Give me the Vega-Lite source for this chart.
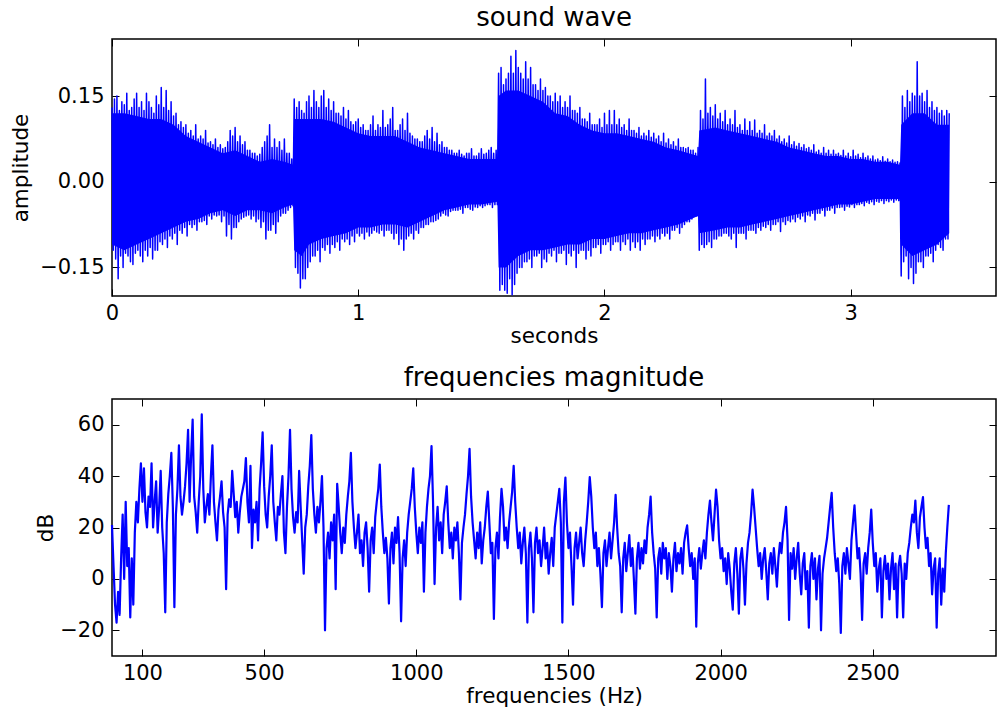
{
"$schema": "https://vega.github.io/schema/vega-lite/v6.json",
"autosize": {"type": "none"},
"padding": {"left": 112, "top": 39, "right": 885, "bottom": 669},
"background": "white",
"spacing": 103,
"bounds": "flush",
"config": {
  "font": "DejaVu Sans",
  "view": {"stroke": "black", "strokeWidth": 1.5},
  "axis": {"domain": false, "grid": false, "tickColor": "black", "tickSize": -7, "tickWidth": 1, "labelFontSize": 21, "labelColor": "black", "labelFlush": false, "labelOverlap": false, "labelBound": false, "titleFontSize": 21.5, "titleFontWeight": "normal", "titleColor": "black", "labelPadding": 13, "titlePadding": 2},
  "axisY": {"labelPadding": 15},
  "title": {"fontSize": 26, "fontWeight": "normal", "color": "black", "font": "DejaVu Sans", "offset": 8, "anchor": "middle", "frame": "group"}
},
"datasets": {
"core": [
{"t":0.0,"lo":-0.11,"hi":0.12},{"t":0.05,"lo":-0.12,"hi":0.12},{"t":0.1,"lo":-0.11,"hi":0.115},{"t":0.15,"lo":-0.1,"hi":0.11},{"t":0.2,"lo":-0.09,"hi":0.11},{"t":0.25,"lo":-0.08,"hi":0.1},{"t":0.3,"lo":-0.07,"hi":0.08},{"t":0.35,"lo":-0.065,"hi":0.07},{"t":0.4,"lo":-0.055,"hi":0.06},{"t":0.45,"lo":-0.05,"hi":0.05},{"t":0.5,"lo":-0.06,"hi":0.055},{"t":0.55,"lo":-0.05,"hi":0.045},{"t":0.6,"lo":-0.05,"hi":0.035},{"t":0.65,"lo":-0.055,"hi":0.04},{"t":0.7,"lo":-0.045,"hi":0.035},{"t":0.735,"lo":-0.04,"hi":0.03},
{"t":0.74,"lo":-0.12,"hi":0.11},{"t":0.77,"lo":-0.13,"hi":0.11},{"t":0.8,"lo":-0.11,"hi":0.11},{"t":0.85,"lo":-0.1,"hi":0.11},{"t":0.9,"lo":-0.095,"hi":0.105},{"t":0.95,"lo":-0.09,"hi":0.095},{"t":1.0,"lo":-0.08,"hi":0.085},{"t":1.05,"lo":-0.08,"hi":0.08},{"t":1.1,"lo":-0.075,"hi":0.08},{"t":1.15,"lo":-0.075,"hi":0.08},{"t":1.2,"lo":-0.08,"hi":0.07},{"t":1.25,"lo":-0.07,"hi":0.06},{"t":1.3,"lo":-0.06,"hi":0.055},{"t":1.35,"lo":-0.05,"hi":0.05},{"t":1.4,"lo":-0.045,"hi":0.045},{"t":1.45,"lo":-0.04,"hi":0.04},{"t":1.5,"lo":-0.04,"hi":0.04},{"t":1.565,"lo":-0.035,"hi":0.04},
{"t":1.57,"lo":-0.15,"hi":0.15},{"t":1.6,"lo":-0.15,"hi":0.16},{"t":1.65,"lo":-0.13,"hi":0.16},{"t":1.7,"lo":-0.12,"hi":0.15},{"t":1.75,"lo":-0.12,"hi":0.14},{"t":1.8,"lo":-0.115,"hi":0.12},{"t":1.85,"lo":-0.11,"hi":0.115},{"t":1.9,"lo":-0.11,"hi":0.1},{"t":1.95,"lo":-0.1,"hi":0.09},{"t":2.0,"lo":-0.1,"hi":0.085},{"t":2.05,"lo":-0.095,"hi":0.085},{"t":2.1,"lo":-0.09,"hi":0.08},{"t":2.15,"lo":-0.09,"hi":0.075},{"t":2.2,"lo":-0.085,"hi":0.07},{"t":2.25,"lo":-0.08,"hi":0.06},{"t":2.3,"lo":-0.075,"hi":0.055},{"t":2.38,"lo":-0.06,"hi":0.045},
{"t":2.385,"lo":-0.09,"hi":0.09},{"t":2.45,"lo":-0.085,"hi":0.095},{"t":2.5,"lo":-0.08,"hi":0.09},{"t":2.55,"lo":-0.08,"hi":0.085},{"t":2.6,"lo":-0.075,"hi":0.08},{"t":2.65,"lo":-0.07,"hi":0.075},{"t":2.7,"lo":-0.065,"hi":0.07},{"t":2.75,"lo":-0.06,"hi":0.06},{"t":2.8,"lo":-0.055,"hi":0.055},{"t":2.85,"lo":-0.05,"hi":0.05},{"t":2.9,"lo":-0.045,"hi":0.045},{"t":2.95,"lo":-0.04,"hi":0.045},{"t":3.0,"lo":-0.04,"hi":0.04},{"t":3.05,"lo":-0.035,"hi":0.04},{"t":3.1,"lo":-0.03,"hi":0.035},{"t":3.15,"lo":-0.03,"hi":0.035},{"t":3.2,"lo":-0.03,"hi":0.03},
{"t":3.205,"lo":-0.11,"hi":0.1},{"t":3.25,"lo":-0.13,"hi":0.12},{"t":3.3,"lo":-0.12,"hi":0.12},{"t":3.35,"lo":-0.11,"hi":0.1},{"t":3.4,"lo":-0.09,"hi":0.1}
],
"wave": [
{"t":0.000,"a":0.13},{"t":0.005,"a":-0.12},{"t":0.010,"a":0.145},{"t":0.015,"a":-0.135},{"t":0.020,"a":0.15},{"t":0.025,"a":-0.17},{"t":0.030,"a":0.125},{"t":0.035,"a":-0.13},
{"t":0.040,"a":0.14},{"t":0.045,"a":-0.15},{"t":0.050,"a":0.135},{"t":0.055,"a":-0.125},{"t":0.060,"a":0.155},{"t":0.065,"a":-0.13},{"t":0.070,"a":0.125},{"t":0.075,"a":-0.14},
{"t":0.080,"a":0.13},{"t":0.085,"a":-0.145},{"t":0.090,"a":0.145},{"t":0.095,"a":-0.125},{"t":0.100,"a":0.155},{"t":0.105,"a":-0.12},{"t":0.110,"a":0.13},{"t":0.115,"a":-0.13},
{"t":0.120,"a":0.14},{"t":0.125,"a":-0.14},{"t":0.130,"a":0.125},{"t":0.135,"a":-0.12},{"t":0.140,"a":0.155},{"t":0.145,"a":-0.13},{"t":0.150,"a":0.14},{"t":0.155,"a":-0.115},
{"t":0.160,"a":0.13},{"t":0.165,"a":-0.135},{"t":0.170,"a":0.12},{"t":0.175,"a":-0.12},{"t":0.180,"a":0.15},{"t":0.185,"a":-0.12},{"t":0.190,"a":0.135},{"t":0.195,"a":-0.105},
{"t":0.200,"a":0.165},{"t":0.205,"a":-0.11},{"t":0.210,"a":0.13},{"t":0.215,"a":-0.1},{"t":0.220,"a":0.16},{"t":0.225,"a":-0.115},{"t":0.230,"a":0.125},{"t":0.235,"a":-0.095},
{"t":0.240,"a":0.14},{"t":0.245,"a":-0.1},{"t":0.250,"a":0.115},{"t":0.255,"a":-0.09},{"t":0.260,"a":0.12},{"t":0.265,"a":-0.11},{"t":0.270,"a":0.1},{"t":0.275,"a":-0.085},
{"t":0.280,"a":0.105},{"t":0.285,"a":-0.09},{"t":0.290,"a":0.095},{"t":0.295,"a":-0.08},{"t":0.300,"a":0.1},{"t":0.305,"a":-0.095},{"t":0.310,"a":0.085},{"t":0.315,"a":-0.075},
{"t":0.320,"a":0.09},{"t":0.325,"a":-0.08},{"t":0.330,"a":0.08},{"t":0.335,"a":-0.075},{"t":0.340,"a":0.1},{"t":0.345,"a":-0.085},{"t":0.350,"a":0.075},{"t":0.355,"a":-0.07},
{"t":0.360,"a":0.08},{"t":0.365,"a":-0.07},{"t":0.370,"a":0.075},{"t":0.375,"a":-0.068},{"t":0.380,"a":0.09},{"t":0.385,"a":-0.075},{"t":0.390,"a":0.068},{"t":0.395,"a":-0.06},
{"t":0.400,"a":0.07},{"t":0.405,"a":-0.065},{"t":0.410,"a":0.065},{"t":0.415,"a":-0.058},{"t":0.420,"a":0.075},{"t":0.425,"a":-0.06},{"t":0.430,"a":0.06},{"t":0.435,"a":-0.058},
{"t":0.440,"a":0.065},{"t":0.445,"a":-0.07},{"t":0.450,"a":0.058},{"t":0.455,"a":-0.06},{"t":0.460,"a":0.06},{"t":0.465,"a":-0.095},{"t":0.470,"a":0.07},{"t":0.475,"a":-0.075},
{"t":0.480,"a":0.09},{"t":0.485,"a":-0.1},{"t":0.490,"a":0.08},{"t":0.495,"a":-0.08},{"t":0.500,"a":0.095},{"t":0.505,"a":-0.08},{"t":0.510,"a":0.07},{"t":0.515,"a":-0.07},
{"t":0.520,"a":0.08},{"t":0.525,"a":-0.065},{"t":0.530,"a":0.065},{"t":0.535,"a":-0.062},{"t":0.540,"a":0.07},{"t":0.545,"a":-0.06},{"t":0.550,"a":0.055},{"t":0.555,"a":-0.058},
{"t":0.560,"a":0.055},{"t":0.565,"a":-0.065},{"t":0.570,"a":0.05},{"t":0.575,"a":-0.06},{"t":0.580,"a":0.05},{"t":0.585,"a":-0.07},{"t":0.590,"a":0.045},{"t":0.595,"a":-0.065},
{"t":0.600,"a":0.048},{"t":0.605,"a":-0.08},{"t":0.610,"a":0.06},{"t":0.615,"a":-0.07},{"t":0.620,"a":0.07},{"t":0.625,"a":-0.1},{"t":0.630,"a":0.08},{"t":0.635,"a":-0.085},
{"t":0.640,"a":0.1},{"t":0.645,"a":-0.085},{"t":0.650,"a":0.06},{"t":0.655,"a":-0.075},{"t":0.660,"a":0.075},{"t":0.665,"a":-0.09},{"t":0.670,"a":0.06},{"t":0.675,"a":-0.07},
{"t":0.680,"a":0.07},{"t":0.685,"a":-0.06},{"t":0.690,"a":0.055},{"t":0.695,"a":-0.055},{"t":0.700,"a":0.075},{"t":0.705,"a":-0.055},{"t":0.710,"a":0.05},{"t":0.715,"a":-0.05},
{"t":0.720,"a":0.05},{"t":0.725,"a":-0.045},{"t":0.730,"a":0.04},{"t":0.735,"a":-0.042},{"t":0.740,"a":0.145},{"t":0.745,"a":-0.15},{"t":0.750,"a":0.13},{"t":0.755,"a":-0.16},
{"t":0.760,"a":0.14},{"t":0.765,"a":-0.186},{"t":0.770,"a":0.125},{"t":0.775,"a":-0.17},{"t":0.780,"a":0.12},{"t":0.785,"a":-0.17},{"t":0.790,"a":0.14},{"t":0.795,"a":-0.15},
{"t":0.800,"a":0.15},{"t":0.805,"a":-0.14},{"t":0.810,"a":0.13},{"t":0.815,"a":-0.13},{"t":0.820,"a":0.16},{"t":0.825,"a":-0.13},{"t":0.830,"a":0.14},{"t":0.835,"a":-0.12},
{"t":0.840,"a":0.13},{"t":0.845,"a":-0.14},{"t":0.850,"a":0.15},{"t":0.855,"a":-0.115},{"t":0.860,"a":0.16},{"t":0.865,"a":-0.12},{"t":0.870,"a":0.13},{"t":0.875,"a":-0.11},
{"t":0.880,"a":0.145},{"t":0.885,"a":-0.125},{"t":0.890,"a":0.125},{"t":0.895,"a":-0.11},{"t":0.900,"a":0.14},{"t":0.905,"a":-0.115},{"t":0.910,"a":0.12},{"t":0.915,"a":-0.105},
{"t":0.920,"a":0.12},{"t":0.925,"a":-0.12},{"t":0.930,"a":0.115},{"t":0.935,"a":-0.1},{"t":0.940,"a":0.13},{"t":0.945,"a":-0.105},{"t":0.950,"a":0.11},{"t":0.955,"a":-0.1},
{"t":0.960,"a":0.125},{"t":0.965,"a":-0.11},{"t":0.970,"a":0.105},{"t":0.975,"a":-0.095},{"t":0.980,"a":0.1},{"t":0.985,"a":-0.105},{"t":0.990,"a":0.105},{"t":0.995,"a":-0.09},
{"t":1.000,"a":0.11},{"t":1.005,"a":-0.095},{"t":1.010,"a":0.095},{"t":1.015,"a":-0.09},{"t":1.020,"a":0.1},{"t":1.025,"a":-0.1},{"t":1.030,"a":0.09},{"t":1.035,"a":-0.088},
{"t":1.040,"a":0.09},{"t":1.045,"a":-0.095},{"t":1.050,"a":0.1},{"t":1.055,"a":-0.09},{"t":1.060,"a":0.115},{"t":1.065,"a":-0.085},{"t":1.070,"a":0.09},{"t":1.075,"a":-0.088},
{"t":1.080,"a":0.1},{"t":1.085,"a":-0.09},{"t":1.090,"a":0.095},{"t":1.095,"a":-0.085},{"t":1.100,"a":0.125},{"t":1.105,"a":-0.095},{"t":1.110,"a":0.095},{"t":1.115,"a":-0.085},
{"t":1.120,"a":0.1},{"t":1.125,"a":-0.085},{"t":1.130,"a":0.11},{"t":1.135,"a":-0.09},{"t":1.140,"a":0.13},{"t":1.145,"a":-0.1},{"t":1.150,"a":0.09},{"t":1.155,"a":-0.09},
{"t":1.160,"a":0.09},{"t":1.165,"a":-0.11},{"t":1.170,"a":0.1},{"t":1.175,"a":-0.1},{"t":1.180,"a":0.11},{"t":1.185,"a":-0.12},{"t":1.190,"a":0.09},{"t":1.195,"a":-0.1},
{"t":1.200,"a":0.12},{"t":1.205,"a":-0.095},{"t":1.210,"a":0.085},{"t":1.215,"a":-0.09},{"t":1.220,"a":0.08},{"t":1.225,"a":-0.1},{"t":1.230,"a":0.075},{"t":1.235,"a":-0.085},
{"t":1.240,"a":0.075},{"t":1.245,"a":-0.09},{"t":1.250,"a":0.07},{"t":1.255,"a":-0.08},{"t":1.260,"a":0.07},{"t":1.265,"a":-0.08},{"t":1.270,"a":0.08},{"t":1.275,"a":-0.075},
{"t":1.280,"a":0.09},{"t":1.285,"a":-0.075},{"t":1.290,"a":0.075},{"t":1.295,"a":-0.07},{"t":1.300,"a":0.095},{"t":1.305,"a":-0.07},{"t":1.310,"a":0.07},{"t":1.315,"a":-0.068},
{"t":1.320,"a":0.085},{"t":1.325,"a":-0.065},{"t":1.330,"a":0.065},{"t":1.335,"a":-0.06},{"t":1.340,"a":0.07},{"t":1.345,"a":-0.055},{"t":1.350,"a":0.06},{"t":1.355,"a":-0.058},
{"t":1.360,"a":0.06},{"t":1.365,"a":-0.06},{"t":1.370,"a":0.055},{"t":1.375,"a":-0.052},{"t":1.380,"a":0.055},{"t":1.385,"a":-0.05},{"t":1.390,"a":0.05},{"t":1.395,"a":-0.05},
{"t":1.400,"a":0.05},{"t":1.405,"a":-0.05},{"t":1.410,"a":0.055},{"t":1.415,"a":-0.048},{"t":1.420,"a":0.048},{"t":1.425,"a":-0.055},{"t":1.430,"a":0.045},{"t":1.435,"a":-0.045},
{"t":1.440,"a":0.05},{"t":1.445,"a":-0.045},{"t":1.450,"a":0.05},{"t":1.455,"a":-0.048},{"t":1.460,"a":0.058},{"t":1.465,"a":-0.05},{"t":1.470,"a":0.045},{"t":1.475,"a":-0.044},
{"t":1.480,"a":0.045},{"t":1.485,"a":-0.045},{"t":1.490,"a":0.05},{"t":1.495,"a":-0.042},{"t":1.500,"a":0.058},{"t":1.505,"a":-0.045},{"t":1.510,"a":0.048},{"t":1.515,"a":-0.042},
{"t":1.520,"a":0.05},{"t":1.525,"a":-0.04},{"t":1.530,"a":0.055},{"t":1.535,"a":-0.04},{"t":1.540,"a":0.06},{"t":1.545,"a":-0.045},{"t":1.550,"a":0.05},{"t":1.555,"a":-0.04},
{"t":1.560,"a":0.055},{"t":1.565,"a":-0.04},{"t":1.570,"a":0.19},{"t":1.575,"a":-0.19},{"t":1.580,"a":0.2},{"t":1.585,"a":-0.18},{"t":1.590,"a":0.17},{"t":1.595,"a":-0.19},
{"t":1.600,"a":0.18},{"t":1.605,"a":-0.195},{"t":1.610,"a":0.19},{"t":1.615,"a":-0.17},{"t":1.620,"a":0.22},{"t":1.625,"a":-0.198},{"t":1.630,"a":0.19},{"t":1.635,"a":-0.18},
{"t":1.640,"a":0.23},{"t":1.645,"a":-0.16},{"t":1.650,"a":0.2},{"t":1.655,"a":-0.15},{"t":1.660,"a":0.19},{"t":1.665,"a":-0.15},{"t":1.670,"a":0.18},{"t":1.675,"a":-0.14},
{"t":1.680,"a":0.21},{"t":1.685,"a":-0.14},{"t":1.690,"a":0.18},{"t":1.695,"a":-0.135},{"t":1.700,"a":0.2},{"t":1.705,"a":-0.15},{"t":1.710,"a":0.17},{"t":1.715,"a":-0.13},
{"t":1.720,"a":0.17},{"t":1.725,"a":-0.13},{"t":1.730,"a":0.16},{"t":1.735,"a":-0.125},{"t":1.740,"a":0.18},{"t":1.745,"a":-0.15},{"t":1.750,"a":0.16},{"t":1.755,"a":-0.135},
{"t":1.760,"a":0.165},{"t":1.765,"a":-0.14},{"t":1.770,"a":0.15},{"t":1.775,"a":-0.125},{"t":1.780,"a":0.15},{"t":1.785,"a":-0.13},{"t":1.790,"a":0.14},{"t":1.795,"a":-0.12},
{"t":1.800,"a":0.155},{"t":1.805,"a":-0.14},{"t":1.810,"a":0.14},{"t":1.815,"a":-0.125},{"t":1.820,"a":0.15},{"t":1.825,"a":-0.125},{"t":1.830,"a":0.13},{"t":1.835,"a":-0.12},
{"t":1.840,"a":0.14},{"t":1.845,"a":-0.145},{"t":1.850,"a":0.13},{"t":1.855,"a":-0.125},{"t":1.860,"a":0.15},{"t":1.865,"a":-0.13},{"t":1.870,"a":0.125},{"t":1.875,"a":-0.12},
{"t":1.880,"a":0.125},{"t":1.885,"a":-0.15},{"t":1.890,"a":0.12},{"t":1.895,"a":-0.125},{"t":1.900,"a":0.13},{"t":1.905,"a":-0.12},{"t":1.910,"a":0.11},{"t":1.915,"a":-0.12},
{"t":1.920,"a":0.11},{"t":1.925,"a":-0.135},{"t":1.930,"a":0.105},{"t":1.935,"a":-0.12},{"t":1.940,"a":0.12},{"t":1.945,"a":-0.13},{"t":1.950,"a":0.1},{"t":1.955,"a":-0.115},
{"t":1.960,"a":0.1},{"t":1.965,"a":-0.115},{"t":1.970,"a":0.1},{"t":1.975,"a":-0.11},{"t":1.980,"a":0.11},{"t":1.985,"a":-0.125},{"t":1.990,"a":0.095},{"t":1.995,"a":-0.11},
{"t":2.000,"a":0.12},{"t":2.005,"a":-0.11},{"t":2.010,"a":0.1},{"t":2.015,"a":-0.105},{"t":2.020,"a":0.125},{"t":2.025,"a":-0.12},{"t":2.030,"a":0.1},{"t":2.035,"a":-0.11},
{"t":2.040,"a":0.125},{"t":2.045,"a":-0.105},{"t":2.050,"a":0.1},{"t":2.055,"a":-0.105},{"t":2.060,"a":0.11},{"t":2.065,"a":-0.12},{"t":2.070,"a":0.095},{"t":2.075,"a":-0.105},
{"t":2.080,"a":0.1},{"t":2.085,"a":-0.11},{"t":2.090,"a":0.09},{"t":2.095,"a":-0.1},{"t":2.100,"a":0.11},{"t":2.105,"a":-0.12},{"t":2.110,"a":0.09},{"t":2.115,"a":-0.105},
{"t":2.120,"a":0.09},{"t":2.125,"a":-0.115},{"t":2.130,"a":0.085},{"t":2.135,"a":-0.105},{"t":2.140,"a":0.095},{"t":2.145,"a":-0.12},{"t":2.150,"a":0.08},{"t":2.155,"a":-0.1},
{"t":2.160,"a":0.085},{"t":2.165,"a":-0.11},{"t":2.170,"a":0.08},{"t":2.175,"a":-0.1},{"t":2.180,"a":0.09},{"t":2.185,"a":-0.1},{"t":2.190,"a":0.078},{"t":2.195,"a":-0.095},
{"t":2.200,"a":0.085},{"t":2.205,"a":-0.105},{"t":2.210,"a":0.075},{"t":2.215,"a":-0.095},{"t":2.220,"a":0.08},{"t":2.225,"a":-0.1},{"t":2.230,"a":0.07},{"t":2.235,"a":-0.09},
{"t":2.240,"a":0.085},{"t":2.245,"a":-0.095},{"t":2.250,"a":0.068},{"t":2.255,"a":-0.09},{"t":2.260,"a":0.075},{"t":2.265,"a":-0.1},{"t":2.270,"a":0.065},{"t":2.275,"a":-0.085},
{"t":2.280,"a":0.07},{"t":2.285,"a":-0.085},{"t":2.290,"a":0.062},{"t":2.295,"a":-0.08},{"t":2.300,"a":0.075},{"t":2.305,"a":-0.09},{"t":2.310,"a":0.06},{"t":2.315,"a":-0.08},
{"t":2.320,"a":0.06},{"t":2.325,"a":-0.075},{"t":2.330,"a":0.058},{"t":2.335,"a":-0.07},{"t":2.340,"a":0.06},{"t":2.345,"a":-0.07},{"t":2.350,"a":0.055},{"t":2.355,"a":-0.065},
{"t":2.360,"a":0.055},{"t":2.365,"a":-0.06},{"t":2.370,"a":0.05},{"t":2.375,"a":-0.06},{"t":2.380,"a":0.06},{"t":2.385,"a":-0.12},{"t":2.390,"a":0.125},{"t":2.395,"a":-0.11},
{"t":2.400,"a":0.11},{"t":2.405,"a":-0.115},{"t":2.410,"a":0.18},{"t":2.415,"a":-0.11},{"t":2.420,"a":0.12},{"t":2.425,"a":-0.105},{"t":2.430,"a":0.13},{"t":2.435,"a":-0.115},
{"t":2.440,"a":0.115},{"t":2.445,"a":-0.1},{"t":2.450,"a":0.135},{"t":2.455,"a":-0.1},{"t":2.460,"a":0.11},{"t":2.465,"a":-0.095},{"t":2.470,"a":0.12},{"t":2.475,"a":-0.095},
{"t":2.480,"a":0.105},{"t":2.485,"a":-0.09},{"t":2.490,"a":0.125},{"t":2.495,"a":-0.09},{"t":2.500,"a":0.1},{"t":2.505,"a":-0.095},{"t":2.510,"a":0.11},{"t":2.515,"a":-0.1},
{"t":2.520,"a":0.1},{"t":2.525,"a":-0.09},{"t":2.530,"a":0.125},{"t":2.535,"a":-0.115},{"t":2.540,"a":0.095},{"t":2.545,"a":-0.09},{"t":2.550,"a":0.1},{"t":2.555,"a":-0.09},
{"t":2.560,"a":0.09},{"t":2.565,"a":-0.09},{"t":2.570,"a":0.11},{"t":2.575,"a":-0.1},{"t":2.580,"a":0.09},{"t":2.585,"a":-0.085},{"t":2.590,"a":0.105},{"t":2.595,"a":-0.085},
{"t":2.600,"a":0.09},{"t":2.605,"a":-0.085},{"t":2.610,"a":0.108},{"t":2.615,"a":-0.09},{"t":2.620,"a":0.085},{"t":2.625,"a":-0.08},{"t":2.630,"a":0.09},{"t":2.635,"a":-0.085},
{"t":2.640,"a":0.085},{"t":2.645,"a":-0.078},{"t":2.650,"a":0.1},{"t":2.655,"a":-0.08},{"t":2.660,"a":0.08},{"t":2.665,"a":-0.075},{"t":2.670,"a":0.085},{"t":2.675,"a":-0.085},
{"t":2.680,"a":0.08},{"t":2.685,"a":-0.075},{"t":2.690,"a":0.09},{"t":2.695,"a":-0.075},{"t":2.700,"a":0.075},{"t":2.705,"a":-0.07},{"t":2.710,"a":0.08},{"t":2.715,"a":-0.087},
{"t":2.720,"a":0.07},{"t":2.725,"a":-0.07},{"t":2.730,"a":0.075},{"t":2.735,"a":-0.075},{"t":2.740,"a":0.068},{"t":2.745,"a":-0.068},{"t":2.750,"a":0.08},{"t":2.755,"a":-0.07},
{"t":2.760,"a":0.065},{"t":2.765,"a":-0.065},{"t":2.770,"a":0.07},{"t":2.775,"a":-0.07},{"t":2.780,"a":0.062},{"t":2.785,"a":-0.062},{"t":2.790,"a":0.067},{"t":2.795,"a":-0.065},
{"t":2.800,"a":0.06},{"t":2.805,"a":-0.06},{"t":2.810,"a":0.065},{"t":2.815,"a":-0.07},{"t":2.820,"a":0.058},{"t":2.825,"a":-0.058},{"t":2.830,"a":0.06},{"t":2.835,"a":-0.06},
{"t":2.840,"a":0.055},{"t":2.845,"a":-0.055},{"t":2.850,"a":0.065},{"t":2.855,"a":-0.067},{"t":2.860,"a":0.052},{"t":2.865,"a":-0.055},{"t":2.870,"a":0.055},{"t":2.875,"a":-0.055},
{"t":2.880,"a":0.05},{"t":2.885,"a":-0.05},{"t":2.890,"a":0.06},{"t":2.895,"a":-0.06},{"t":2.900,"a":0.05},{"t":2.905,"a":-0.05},{"t":2.910,"a":0.055},{"t":2.915,"a":-0.05},
{"t":2.920,"a":0.048},{"t":2.925,"a":-0.046},{"t":2.930,"a":0.055},{"t":2.935,"a":-0.055},{"t":2.940,"a":0.048},{"t":2.945,"a":-0.045},{"t":2.950,"a":0.05},{"t":2.955,"a":-0.045},
{"t":2.960,"a":0.046},{"t":2.965,"a":-0.044},{"t":2.970,"a":0.055},{"t":2.975,"a":-0.05},{"t":2.980,"a":0.045},{"t":2.985,"a":-0.043},{"t":2.990,"a":0.05},{"t":2.995,"a":-0.044},
{"t":3.000,"a":0.044},{"t":3.005,"a":-0.04},{"t":3.010,"a":0.055},{"t":3.015,"a":-0.045},{"t":3.020,"a":0.045},{"t":3.025,"a":-0.04},{"t":3.030,"a":0.048},{"t":3.035,"a":-0.04},
{"t":3.040,"a":0.042},{"t":3.045,"a":-0.038},{"t":3.050,"a":0.05},{"t":3.055,"a":-0.042},{"t":3.060,"a":0.042},{"t":3.065,"a":-0.036},{"t":3.070,"a":0.045},{"t":3.075,"a":-0.038},
{"t":3.080,"a":0.04},{"t":3.085,"a":-0.035},{"t":3.090,"a":0.045},{"t":3.095,"a":-0.04},{"t":3.100,"a":0.038},{"t":3.105,"a":-0.034},{"t":3.110,"a":0.04},{"t":3.115,"a":-0.036},
{"t":3.120,"a":0.037},{"t":3.125,"a":-0.033},{"t":3.130,"a":0.044},{"t":3.135,"a":-0.038},{"t":3.140,"a":0.036},{"t":3.145,"a":-0.033},{"t":3.150,"a":0.04},{"t":3.155,"a":-0.035},
{"t":3.160,"a":0.035},{"t":3.165,"a":-0.032},{"t":3.170,"a":0.038},{"t":3.175,"a":-0.036},{"t":3.180,"a":0.034},{"t":3.185,"a":-0.032},{"t":3.190,"a":0.035},{"t":3.195,"a":-0.033},
{"t":3.200,"a":0.033},{"t":3.205,"a":-0.165},{"t":3.210,"a":0.15},{"t":3.215,"a":-0.14},{"t":3.220,"a":0.13},{"t":3.225,"a":-0.13},{"t":3.230,"a":0.16},{"t":3.235,"a":-0.17},
{"t":3.240,"a":0.14},{"t":3.245,"a":-0.15},{"t":3.250,"a":0.155},{"t":3.255,"a":-0.178},{"t":3.260,"a":0.15},{"t":3.265,"a":-0.16},{"t":3.270,"a":0.21},{"t":3.275,"a":-0.14},
{"t":3.280,"a":0.15},{"t":3.285,"a":-0.14},{"t":3.290,"a":0.155},{"t":3.295,"a":-0.15},{"t":3.300,"a":0.14},{"t":3.305,"a":-0.13},{"t":3.310,"a":0.16},{"t":3.315,"a":-0.13},
{"t":3.320,"a":0.13},{"t":3.325,"a":-0.125},{"t":3.330,"a":0.14},{"t":3.335,"a":-0.14},{"t":3.340,"a":0.125},{"t":3.345,"a":-0.12},{"t":3.350,"a":0.13},{"t":3.355,"a":-0.11},
{"t":3.360,"a":0.12},{"t":3.365,"a":-0.115},{"t":3.370,"a":0.125},{"t":3.375,"a":-0.12},{"t":3.380,"a":0.115},{"t":3.385,"a":-0.1},{"t":3.390,"a":0.125},{"t":3.395,"a":-0.1},
{"t":3.400,"a":0.12}
],
"spec": [
{"f":0,"db":21},{"f":5,"db":5},{"f":10,"db":-10},{"f":15,"db":-17},{"f":20,"db":-5},{"f":25,"db":-14},{"f":30,"db":8},{"f":35,"db":25},{"f":40,"db":0},{"f":45,"db":30},{"f":50,"db":5},{"f":55,"db":12},{"f":60,"db":-15},{"f":65,"db":8},{"f":70,"db":-10},{"f":75,"db":18},
{"f":80,"db":30},{"f":85,"db":22},{"f":90,"db":35},{"f":95,"db":45},{"f":100,"db":30},{"f":105,"db":43},{"f":110,"db":26},{"f":115,"db":20},{"f":120,"db":32},{"f":125,"db":28},{"f":130,"db":45},{"f":135,"db":20},{"f":140,"db":30},{"f":145,"db":38},{"f":150,"db":18},{"f":155,"db":28},
{"f":160,"db":42},{"f":165,"db":20},{"f":170,"db":10},{"f":175,"db":-13},{"f":180,"db":22},{"f":185,"db":33},{"f":190,"db":40},{"f":195,"db":49},{"f":200,"db":28},{"f":205,"db":-11},{"f":210,"db":25},{"f":215,"db":35},{"f":220,"db":52},{"f":225,"db":32},{"f":230,"db":25},{"f":235,"db":30},
{"f":240,"db":36},{"f":245,"db":45},{"f":250,"db":58},{"f":255,"db":30},{"f":260,"db":48},{"f":265,"db":62},{"f":270,"db":32},{"f":275,"db":26},{"f":280,"db":18},{"f":285,"db":30},{"f":290,"db":40},{"f":295,"db":64},{"f":300,"db":35},{"f":305,"db":22},{"f":310,"db":28},{"f":315,"db":33},
{"f":320,"db":25},{"f":325,"db":40},{"f":330,"db":52},{"f":335,"db":30},{"f":340,"db":22},{"f":345,"db":15},{"f":350,"db":27},{"f":355,"db":32},{"f":360,"db":38},{"f":365,"db":26},{"f":370,"db":20},{"f":375,"db":-4},{"f":380,"db":25},{"f":385,"db":31},{"f":390,"db":28},{"f":395,"db":42},
{"f":400,"db":33},{"f":405,"db":24},{"f":410,"db":30},{"f":415,"db":18},{"f":420,"db":26},{"f":425,"db":32},{"f":430,"db":35},{"f":435,"db":38},{"f":440,"db":47},{"f":445,"db":30},{"f":450,"db":22},{"f":455,"db":44},{"f":460,"db":12},{"f":465,"db":27},{"f":470,"db":22},{"f":475,"db":30},
{"f":480,"db":15},{"f":485,"db":35},{"f":490,"db":45},{"f":495,"db":57},{"f":500,"db":36},{"f":505,"db":25},{"f":510,"db":20},{"f":515,"db":32},{"f":520,"db":40},{"f":525,"db":52},{"f":530,"db":30},{"f":535,"db":22},{"f":540,"db":15},{"f":545,"db":28},{"f":550,"db":25},{"f":555,"db":33},
{"f":560,"db":40},{"f":565,"db":18},{"f":570,"db":10},{"f":575,"db":28},{"f":580,"db":40},{"f":585,"db":58},{"f":590,"db":35},{"f":595,"db":24},{"f":600,"db":18},{"f":605,"db":26},{"f":610,"db":22},{"f":615,"db":42},{"f":620,"db":28},{"f":625,"db":15},{"f":630,"db":2},{"f":635,"db":20},
{"f":640,"db":25},{"f":645,"db":36},{"f":650,"db":44},{"f":655,"db":56},{"f":660,"db":35},{"f":665,"db":25},{"f":670,"db":18},{"f":675,"db":28},{"f":680,"db":22},{"f":685,"db":30},{"f":690,"db":40},{"f":695,"db":20},{"f":700,"db":-20},
{"f":705,"db":12},{"f":710,"db":18},{"f":715,"db":8},{"f":720,"db":22},{"f":725,"db":15},{"f":730,"db":25},{"f":735,"db":-4},{"f":740,"db":37},{"f":745,"db":28},{"f":750,"db":18},{"f":755,"db":10},{"f":760,"db":20},{"f":765,"db":14},{"f":770,"db":25},{"f":775,"db":32},{"f":780,"db":38},
{"f":785,"db":49},{"f":790,"db":30},{"f":795,"db":20},{"f":800,"db":12},{"f":805,"db":18},{"f":810,"db":25},{"f":815,"db":10},{"f":820,"db":15},{"f":825,"db":5},{"f":830,"db":18},{"f":835,"db":22},{"f":840,"db":12},{"f":845,"db":-5},{"f":850,"db":15},{"f":855,"db":20},{"f":860,"db":10},
{"f":865,"db":24},{"f":870,"db":30},{"f":875,"db":35},{"f":880,"db":44.5},{"f":885,"db":28},{"f":890,"db":18},{"f":895,"db":10},{"f":900,"db":16},{"f":905,"db":8},{"f":910,"db":-9.6},{"f":915,"db":12},{"f":920,"db":18},{"f":925,"db":6},{"f":930,"db":20},{"f":935,"db":14},{"f":940,"db":24},
{"f":945,"db":10},{"f":950,"db":-16.5},{"f":955,"db":8},{"f":960,"db":15},{"f":965,"db":5},{"f":970,"db":18},{"f":975,"db":25},{"f":980,"db":30},{"f":985,"db":35},{"f":990,"db":43},{"f":995,"db":28},{"f":1000,"db":18},
{"f":1005,"db":10},{"f":1010,"db":20},{"f":1015,"db":14},{"f":1020,"db":22},{"f":1025,"db":-5},{"f":1030,"db":18},{"f":1035,"db":28},{"f":1040,"db":35},{"f":1045,"db":40},{"f":1050,"db":51.7},{"f":1055,"db":30},{"f":1060,"db":-2},{"f":1065,"db":20},{"f":1070,"db":28},{"f":1075,"db":15},{"f":1080,"db":22},
{"f":1085,"db":10},{"f":1090,"db":25},{"f":1095,"db":30},{"f":1100,"db":36},{"f":1105,"db":22},{"f":1110,"db":12},{"f":1115,"db":18},{"f":1120,"db":8},{"f":1125,"db":20},{"f":1130,"db":15},{"f":1135,"db":22},{"f":1140,"db":10},{"f":1145,"db":-8},{"f":1150,"db":14},{"f":1155,"db":20},{"f":1160,"db":25},
{"f":1165,"db":33},{"f":1170,"db":40},{"f":1175,"db":50.6},{"f":1180,"db":32},{"f":1185,"db":22},{"f":1190,"db":15},{"f":1195,"db":8},{"f":1200,"db":18},{"f":1205,"db":12},{"f":1210,"db":22},{"f":1215,"db":6},{"f":1220,"db":15},{"f":1225,"db":20},{"f":1230,"db":28},{"f":1235,"db":34},{"f":1240,"db":22},
{"f":1245,"db":10},{"f":1250,"db":14},{"f":1255,"db":-15.6},{"f":1260,"db":12},{"f":1265,"db":18},{"f":1270,"db":8},{"f":1275,"db":24},{"f":1280,"db":35},{"f":1285,"db":28},{"f":1290,"db":15},{"f":1295,"db":20},{"f":1300,"db":12},{"f":1305,"db":22},{"f":1310,"db":28},{"f":1315,"db":34},{"f":1320,"db":44},
{"f":1325,"db":30},{"f":1330,"db":20},{"f":1335,"db":12},{"f":1340,"db":18},{"f":1345,"db":6},{"f":1350,"db":14},{"f":1355,"db":20},{"f":1360,"db":10},{"f":1365,"db":-17},{"f":1370,"db":12},{"f":1375,"db":18},{"f":1380,"db":8},{"f":1385,"db":-13},{"f":1390,"db":14},{"f":1395,"db":20},{"f":1400,"db":10},
{"f":1405,"db":15},{"f":1410,"db":5},{"f":1415,"db":12},{"f":1420,"db":20},{"f":1425,"db":8},{"f":1430,"db":14},{"f":1435,"db":2},{"f":1440,"db":10},{"f":1445,"db":16},{"f":1450,"db":5},{"f":1455,"db":20},{"f":1460,"db":25},{"f":1465,"db":30},{"f":1470,"db":35},{"f":1475,"db":22},{"f":1480,"db":-17},
{"f":1485,"db":30},{"f":1490,"db":39.4},{"f":1495,"db":22},{"f":1500,"db":12},{"f":1505,"db":18},{"f":1510,"db":5},{"f":1515,"db":-10},{"f":1520,"db":12},{"f":1525,"db":18},{"f":1530,"db":8},{"f":1535,"db":14},{"f":1540,"db":20},{"f":1545,"db":10},{"f":1550,"db":5},{"f":1555,"db":15},{"f":1560,"db":22},
{"f":1565,"db":30},{"f":1570,"db":39.6},{"f":1575,"db":32},{"f":1580,"db":20},{"f":1585,"db":12},{"f":1590,"db":18},{"f":1595,"db":5},{"f":1600,"db":12},{"f":1605,"db":2},{"f":1610,"db":-11},{"f":1615,"db":10},{"f":1620,"db":15},{"f":1625,"db":5},{"f":1630,"db":12},{"f":1635,"db":18},{"f":1640,"db":8},
{"f":1645,"db":15},{"f":1650,"db":22},{"f":1655,"db":32.7},{"f":1660,"db":20},{"f":1665,"db":10},{"f":1670,"db":5},{"f":1675,"db":-13},{"f":1680,"db":8},{"f":1685,"db":14},{"f":1690,"db":3},{"f":1695,"db":10},{"f":1700,"db":17},{"f":1705,"db":5},{"f":1710,"db":12},{"f":1715,"db":0},{"f":1720,"db":-13.5},
{"f":1725,"db":8},{"f":1730,"db":14},{"f":1735,"db":4},{"f":1740,"db":12},{"f":1745,"db":6},{"f":1750,"db":15},{"f":1755,"db":10},{"f":1760,"db":20},{"f":1765,"db":25},{"f":1770,"db":32},{"f":1775,"db":18},{"f":1780,"db":10},{"f":1785,"db":4},{"f":1790,"db":-15},{"f":1795,"db":8},{"f":1800,"db":12},
{"f":1805,"db":2},{"f":1810,"db":14},{"f":1815,"db":8},{"f":1820,"db":12},{"f":1825,"db":0},{"f":1830,"db":10},{"f":1835,"db":5},{"f":1840,"db":-5},{"f":1845,"db":8},{"f":1850,"db":14},{"f":1855,"db":3},{"f":1860,"db":10},{"f":1865,"db":6},{"f":1870,"db":12},{"f":1875,"db":2},{"f":1880,"db":14},
{"f":1885,"db":18},{"f":1890,"db":20.8},{"f":1895,"db":12},{"f":1900,"db":5},{"f":1905,"db":10},{"f":1910,"db":0},{"f":1915,"db":8},{"f":1920,"db":-18.6},{"f":1925,"db":6},{"f":1930,"db":12},{"f":1935,"db":4},{"f":1940,"db":10},{"f":1945,"db":15},{"f":1950,"db":8},{"f":1955,"db":18},{"f":1960,"db":25},
{"f":1965,"db":30.5},{"f":1970,"db":22},{"f":1975,"db":15},{"f":1980,"db":25},{"f":1985,"db":34.7},{"f":1990,"db":28},{"f":1995,"db":15},{"f":2000,"db":8},
{"f":2005,"db":12},{"f":2010,"db":3},{"f":2015,"db":8},{"f":2020,"db":-2},{"f":2025,"db":10},{"f":2030,"db":4},{"f":2035,"db":-5},{"f":2040,"db":-12},{"f":2045,"db":6},{"f":2050,"db":12},{"f":2055,"db":2},{"f":2060,"db":-13.5},{"f":2065,"db":8},{"f":2070,"db":12},{"f":2075,"db":4},{"f":2080,"db":-10},
{"f":2085,"db":6},{"f":2090,"db":14},{"f":2095,"db":18},{"f":2100,"db":25},{"f":2105,"db":34.7},{"f":2110,"db":28},{"f":2115,"db":20},{"f":2120,"db":12},{"f":2125,"db":5},{"f":2130,"db":10},{"f":2135,"db":0},{"f":2140,"db":8},{"f":2145,"db":12},{"f":2150,"db":3},{"f":2155,"db":-8},{"f":2160,"db":6},
{"f":2165,"db":10},{"f":2170,"db":2},{"f":2175,"db":12},{"f":2180,"db":5},{"f":2185,"db":-3},{"f":2190,"db":8},{"f":2195,"db":14},{"f":2200,"db":10},{"f":2205,"db":18},{"f":2210,"db":22},{"f":2215,"db":28},{"f":2220,"db":15},{"f":2225,"db":-16},{"f":2230,"db":10},{"f":2235,"db":4},{"f":2240,"db":12},
{"f":2245,"db":0},{"f":2250,"db":8},{"f":2255,"db":14},{"f":2260,"db":2},{"f":2265,"db":-6},{"f":2270,"db":6},{"f":2275,"db":10},{"f":2280,"db":-4},{"f":2285,"db":3},{"f":2290,"db":-19},{"f":2295,"db":5},{"f":2300,"db":10},{"f":2305,"db":0},{"f":2310,"db":8},{"f":2315,"db":-8},{"f":2320,"db":4},
{"f":2325,"db":9},{"f":2330,"db":-20},{"f":2335,"db":2},{"f":2340,"db":8},{"f":2345,"db":12},{"f":2350,"db":16},{"f":2355,"db":22},{"f":2360,"db":28},{"f":2365,"db":33.5},{"f":2370,"db":20},{"f":2375,"db":10},{"f":2380,"db":3},{"f":2385,"db":8},{"f":2390,"db":-2},{"f":2395,"db":-21},{"f":2400,"db":5},
{"f":2405,"db":10},{"f":2410,"db":2},{"f":2415,"db":12},{"f":2420,"db":6},{"f":2425,"db":0},{"f":2430,"db":15},{"f":2435,"db":22},{"f":2440,"db":28.6},{"f":2445,"db":18},{"f":2450,"db":8},{"f":2455,"db":12},{"f":2460,"db":2},{"f":2465,"db":-16},{"f":2470,"db":6},{"f":2475,"db":10},{"f":2480,"db":2},
{"f":2485,"db":12},{"f":2490,"db":18},{"f":2495,"db":27},{"f":2500,"db":14},{"f":2505,"db":5},{"f":2510,"db":10},{"f":2515,"db":-5},{"f":2520,"db":4},{"f":2525,"db":8},{"f":2530,"db":-15},{"f":2535,"db":3},{"f":2540,"db":9},{"f":2545,"db":0},{"f":2550,"db":6},{"f":2555,"db":-8},{"f":2560,"db":4},
{"f":2565,"db":10},{"f":2570,"db":-4},{"f":2575,"db":6},{"f":2580,"db":-15},{"f":2585,"db":5},{"f":2590,"db":9},{"f":2595,"db":2},{"f":2600,"db":-15},{"f":2605,"db":6},{"f":2610,"db":0},{"f":2615,"db":10},{"f":2620,"db":14},{"f":2625,"db":20},{"f":2630,"db":25},{"f":2635,"db":22},{"f":2640,"db":30.5},
{"f":2645,"db":18},{"f":2650,"db":12},{"f":2655,"db":24},{"f":2660,"db":28},{"f":2665,"db":31.8},{"f":2670,"db":20},{"f":2675,"db":12},{"f":2680,"db":16},{"f":2685,"db":5},{"f":2690,"db":10},{"f":2695,"db":-6},{"f":2700,"db":4},{"f":2705,"db":8},{"f":2710,"db":-19},{"f":2715,"db":2},{"f":2720,"db":8},
{"f":2725,"db":-10},{"f":2730,"db":4},{"f":2735,"db":-5},{"f":2740,"db":10},{"f":2745,"db":20},{"f":2750,"db":28.8}
]
},
"vconcat": [
{
  "width": 884, "height": 257,
  "title": {"text": "sound wave"},
  "resolve": {"axis": {"x": "independent", "y": "independent"}},
  "layer": [
    {"data": {"name": "core"}, "mark": {"type": "area", "color": "#0000ff"},
     "encoding": {
       "x": {"field": "t", "type": "quantitative", "scale": {"domain": [0, 3.59], "nice": false, "zero": false}, "axis": {"orient": "top", "labels": false, "title": null, "values": [0, 1, 2, 3]}},
       "y": {"field": "lo", "type": "quantitative", "scale": {"domain": [-0.2, 0.25], "nice": false, "zero": false}, "axis": {"orient": "right", "labels": false, "title": null, "values": [-0.15, 0, 0.15]}},
       "y2": {"field": "hi"}}},
    {"data": {"name": "wave"}, "mark": {"type": "line", "color": "#0000ff", "strokeWidth": 1.5, "strokeJoin": "round"},
     "encoding": {
       "x": {"field": "t", "type": "quantitative", "axis": {"title": "seconds", "values": [0, 1, 2, 3], "format": "d"}},
       "y": {"field": "a", "type": "quantitative", "axis": {"title": "amplitude", "values": [-0.15, 0, 0.15], "format": ".2f", "titlePadding": 7}}}}
  ]
},
{
  "width": 884, "height": 257,
  "title": {"text": "frequencies magnitude"},
  "resolve": {"axis": {"x": "independent", "y": "independent"}},
  "data": {"name": "spec"},
  "layer": [
    {"mark": {"type": "line", "color": "#0000ff", "strokeWidth": 2.2, "strokeJoin": "round"},
     "encoding": {
       "x": {"field": "f", "type": "quantitative", "scale": {"domain": [0, 2905], "nice": false, "zero": false}, "axis": {"title": "frequencies (Hz)", "values": [100, 500, 1000, 1500, 2000, 2500], "format": "d"}},
       "y": {"field": "db", "type": "quantitative", "scale": {"domain": [-30, 70], "nice": false, "zero": false}, "axis": {"title": "dB", "values": [-20, 0, 20, 40, 60], "format": "d", "titlePadding": 2}}}},
    {"mark": {"type": "line", "strokeOpacity": 0},
     "encoding": {
       "x": {"field": "f", "type": "quantitative", "axis": {"orient": "top", "labels": false, "title": null, "values": [100, 500, 1000, 1500, 2000, 2500]}},
       "y": {"field": "db", "type": "quantitative", "axis": {"orient": "right", "labels": false, "title": null, "values": [-20, 0, 20, 40, 60]}}}}
  ]
}
]
}
